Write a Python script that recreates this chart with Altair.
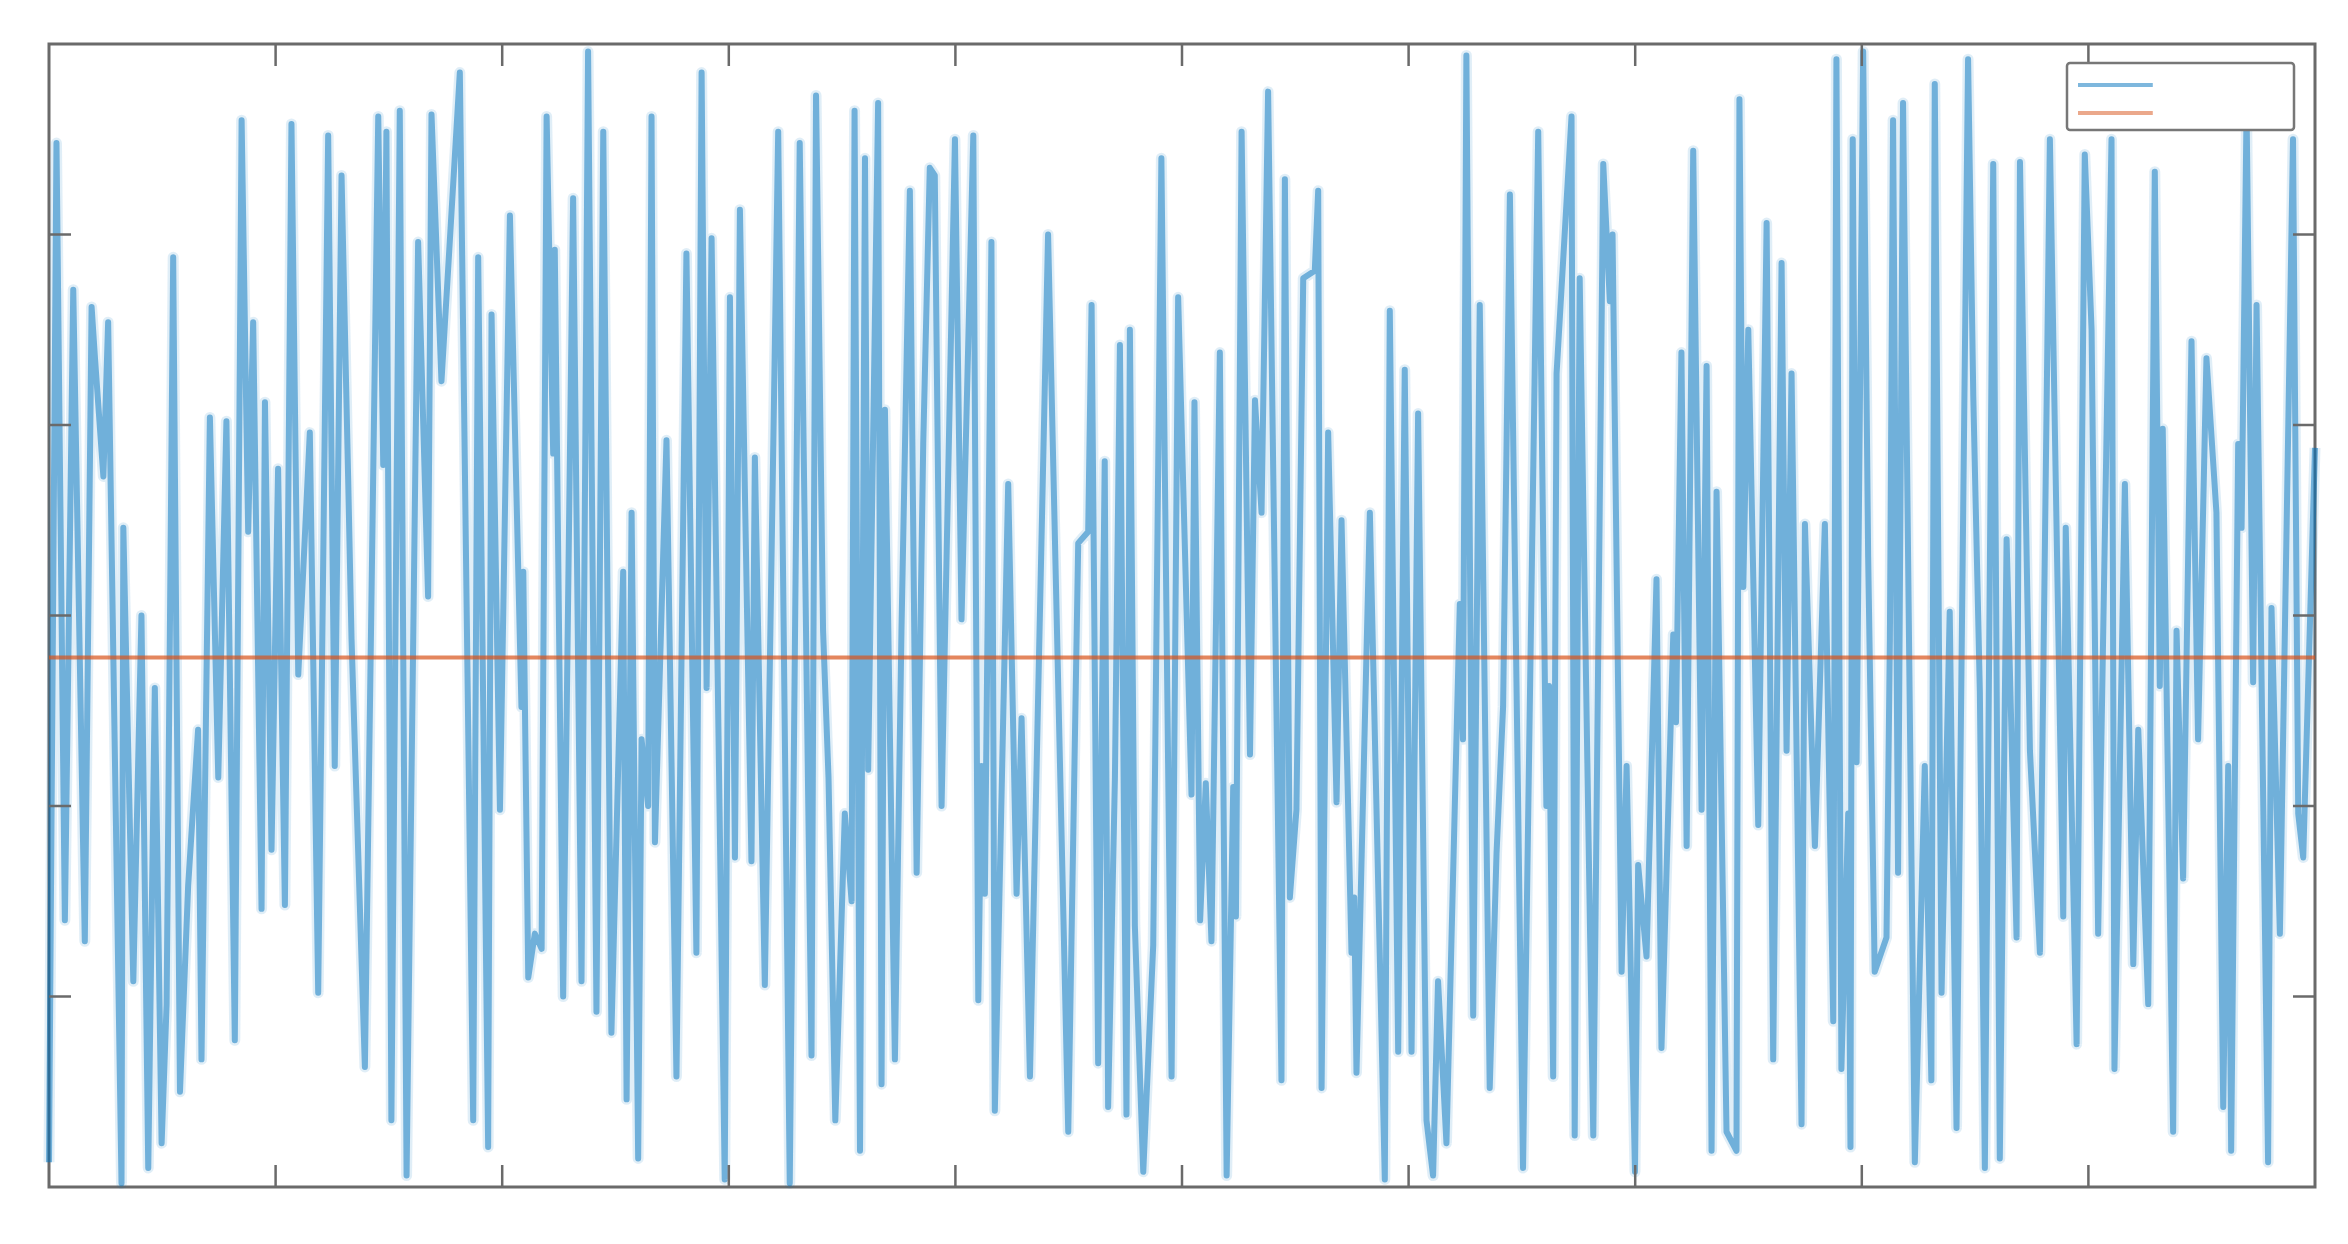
import altair as alt
import pandas as pd

# sample index (0..1000) and signal value (axis 0..6)
x_vals = [
    0, 3.3, 7.0, 10.7, 15.8, 18.8, 20.3, 24.0, 26.1, 32.0, 32.8, 37.2, 40.8, 43.8, 46.7, 49.7,
    51.9, 54.8, 57.8, 61.4, 65.8, 67.3, 71.0, 74.7, 78.3, 82.0, 85.0, 87.9, 90.1, 93.8, 95.3,
    98.2, 101.1, 104.1, 107.0, 110.0, 115.1, 118.8, 123.2, 126.1, 129.1, 132.0, 133.5, 139.4,
    145.3, 147.5, 148.9, 151.1, 154.8, 157.8, 162.9, 167.3, 168.8, 173.2, 181.3, 187.2, 189.4,
    193.8, 195.3, 199.0, 203.4, 208.5, 209.3, 211.5, 214.4, 217.4, 219.6, 222.5, 223.2, 226.9,
    231.3, 235.0, 237.9, 241.6, 244.6, 248.2, 253.4, 254.9, 257.1, 260.0, 261.5, 264.4, 265.9,
    267.4, 272.5, 276.9, 281.3, 285.7, 288.0, 290.2, 292.4, 298.2, 300.5, 302.7, 304.9, 310.0,
    311.5, 315.9, 321.8, 326.9, 331.3, 336.5, 338.5, 341.6, 344.0, 347.0, 351.2, 354.2, 355.5,
    357.9, 360.1, 361.5, 365.9, 367.4, 368.9, 373.3, 376.2, 379.9, 382.9, 385.8, 388.7, 390.9,
    393.9, 399.8, 402.7, 407.9, 410.1, 411.5, 413.0, 415.9, 417.4, 423.3, 427.0, 429.2, 432.9,
    440.9, 449.8, 454.2, 458.6, 460.1, 463.0, 465.9, 467.4, 470.4, 472.6, 475.5, 477.0, 479.2,
    482.9, 487.3, 490.9, 495.4, 498.3, 504.2, 505.5, 508.0, 510.5, 513.0, 516.7, 519.7, 522.6,
    523.8, 526.3, 530.0, 532.2, 535.1, 538.0, 543.9, 545.4, 547.6, 550.5, 553.5, 558.6, 560.1,
    561.6, 564.5, 568.2, 570.4, 574.8, 576.0, 577.0, 582.9, 589.5, 591.7, 595.4, 598.3, 601.3,
    604.2, 607.9, 610.8, 613.0, 616.7, 622.6, 624.0, 625.5, 628.5, 631.4, 635.8, 638.8, 641.7,
    644.7, 650.5, 657.2, 660.8, 662.0, 663.8, 665.3, 671.9, 673.3, 675.5, 681.5, 685.9, 688.8,
    690.0, 694.0, 696.2, 699.9, 701.3, 705.0, 709.4, 711.6, 716.8, 718.0, 720.4, 722.7, 725.6,
    729.3, 731.5, 733.7, 735.9, 740.3, 744.7, 746.0, 747.7, 749.9, 754.3, 758.0, 760.9, 764.6,
    766.8, 769.0, 773.4, 774.9, 779.3, 783.7, 787.4, 788.8, 791.0, 794.0, 795.0, 796.0, 797.7,
    800.6, 802.8, 805.7, 810.9, 812.4, 813.8, 816.0, 818.2, 823.4, 827.8, 830.7, 832.2, 835.2,
    838.8, 841.8, 846.9, 849.2, 852.1, 854.3, 858.0, 860.9, 863.9, 868.3, 869.8, 874.2, 878.6,
    883.0, 888.9, 890.0, 894.8, 898.4, 901.4, 904.3, 910.2, 911.5, 916.1, 919.8, 922.0, 926.4,
    929.3, 931.5, 932.8, 937.4, 938.9, 941.8, 945.5, 948.4, 952.1, 956.5, 959.5, 961.7, 963.0,
    966.1, 967.6, 969.8, 972.7, 974.2, 979.3, 980.8, 984.5, 990.3, 992.6, 994.8, 1000,
]
y_vals = [
    0.13, 5.48, 1.40, 4.71, 1.29, 4.62, 4.35, 3.73, 4.54, 0.02, 3.46, 1.08, 3.00, 0.10, 2.62, 0.23,
    0.96, 4.88, 0.50, 1.58, 2.40, 0.67, 4.04, 2.15, 4.02, 0.77, 5.60, 3.44, 4.54, 1.46, 4.12,
    1.77, 3.77, 1.48, 5.58, 2.69, 3.96, 1.02, 5.52, 2.21, 5.31, 3.73, 2.88, 0.63,
    5.62, 3.79, 5.54, 0.35, 5.65, 0.06, 4.96, 3.10, 5.63, 4.23, 5.85, 0.35, 4.88,
    0.21, 4.58, 1.98, 5.10, 2.52, 3.23, 1.10, 1.33, 1.25, 5.62, 3.85, 4.92, 1.00,
    5.19, 1.08, 5.96, 0.92, 5.54, 0.81, 3.23, 0.46, 3.54, 0.15, 2.35, 2.00, 5.62,
    1.81, 3.92, 0.58, 4.90, 1.23, 5.85, 2.62, 4.98, 0.04, 4.67, 1.73, 5.13, 1.71,
    3.83, 1.06, 5.54, 0.02, 5.48, 0.69, 5.73, 2.92, 2.15, 0.35, 1.96, 1.50, 5.65,
    0.19, 5.40, 2.19, 5.69, 0.54, 4.08, 0.67, 2.92, 5.23, 1.65, 3.90, 5.35, 5.31,
    2.00, 5.50, 2.98, 5.52, 0.98, 2.21, 1.54, 4.96, 0.40, 3.69, 1.54, 2.46, 0.58,
    5.00, 0.29, 3.38, 3.44, 4.63, 0.65, 3.81, 0.42, 2.15, 4.42, 0.38, 4.50, 1.37,
    0.08, 1.27, 5.40, 0.58, 4.67, 2.06, 4.12, 1.40, 2.12, 1.29, 4.38, 0.06, 2.10,
    1.42, 5.54, 2.27, 4.13, 3.54, 5.75, 0.56, 5.29, 1.52, 1.98, 4.77, 4.81, 5.23,
    0.52, 3.96, 2.02, 3.50, 1.23, 1.52, 0.60, 3.54, 0.04, 4.60, 0.71, 4.29, 0.71,
    4.06, 0.35, 0.06, 1.08, 0.23, 3.06, 2.35, 5.94, 0.90, 4.63, 0.52, 1.75, 2.52,
    5.21, 0.10, 5.54, 2.00, 2.63, 0.58, 4.27, 5.62, 0.27, 4.77, 0.27, 5.37, 4.65,
    5.00, 1.13, 2.21, 0.08, 1.69, 1.21, 3.19, 0.73, 2.90, 2.44, 4.38, 1.79, 5.44,
    1.98, 4.31, 0.19, 3.65, 0.29, 0.19, 5.71, 3.15, 4.50, 1.90, 5.06, 0.67, 4.85,
    2.29, 4.27, 0.33, 3.48, 1.79, 3.48, 0.87, 5.92, 0.62, 1.96, 0.21, 5.50, 2.23,
    5.96, 3.31, 1.13, 1.31, 2.88, 5.60, 1.65, 5.69, 0.13, 2.21, 0.56, 5.79, 1.02,
    3.02, 0.31, 5.92, 4.15, 2.60, 0.10, 5.37, 0.15, 3.40, 1.31, 5.38, 2.29, 1.23,
    5.50, 1.42, 3.46, 0.75, 5.42, 4.50, 1.33, 5.50, 0.62, 3.69, 1.17, 2.40, 0.96,
    5.33, 2.63, 3.98, 0.29, 2.92, 1.62, 4.44, 2.35, 4.35, 3.54, 0.42, 2.21, 0.19,
    3.90, 3.46, 5.65, 2.65, 4.63, 0.13, 3.04, 1.33, 5.50, 1.96, 1.73, 3.88,
]
mean_level = 2.78
series_names = ["signal", "mean"]
series_colors = ["#0072BD", "#D95319"]
x_ticks = [100, 200, 300, 400, 500, 600, 700, 800, 900]
y_ticks = [1, 2, 3, 4, 5]

W, H = 2266, 1143
TICK = 22
FRAME = "#6a6a6a"

sig = pd.DataFrame({"x": x_vals, "y": y_vals, "series": series_names[0]})
mean_df = pd.DataFrame({"y": [mean_level], "series": [series_names[1]]})
xt = pd.DataFrame({"x": x_ticks})
yt = pd.DataFrame({"y": y_ticks})

xs = alt.Scale(domain=[0, 1000], nice=False, zero=False)
ys = alt.Scale(domain=[0, 6], nice=False, zero=False)
cs = alt.Scale(domain=series_names, range=series_colors)

legend = alt.Legend(
    orient="none", legendX=2018, legendY=19, title=None,
    symbolType="M-1,0H5.8", symbolSize=484, symbolStrokeWidth=4,
    labelExpr="''", labelOffset=183, padding=9, rowPadding=7,
    fillColor="white", strokeColor="#777777", cornerRadius=3,
)

# soft halo under the signal to mimic the blurred rendering
halo = alt.Chart(sig).mark_line(strokeWidth=11, opacity=0.12, color="#0072BD",
                                strokeJoin="round").encode(
    x=alt.X("x:Q", scale=xs, axis=None),
    y=alt.Y("y:Q", scale=ys, axis=None),
)

line = alt.Chart(sig).mark_line(strokeWidth=6, opacity=0.5, strokeJoin="round").encode(
    x=alt.X("x:Q", scale=xs, axis=None),
    y=alt.Y("y:Q", scale=ys, axis=None),
    color=alt.Color("series:N", scale=cs, legend=legend),
)

mean_rule = alt.Chart(mean_df).mark_rule(strokeWidth=4, opacity=0.7).encode(
    y=alt.Y("y:Q", scale=ys, axis=None),
    color=alt.Color("series:N", scale=cs, legend=legend),
)

tick_style = dict(color=FRAME, strokeWidth=2.5)
xt_top = alt.Chart(xt).mark_rule(**tick_style).encode(
    x=alt.X("x:Q", scale=xs, axis=None), y=alt.value(0), y2=alt.value(TICK))
xt_bot = alt.Chart(xt).mark_rule(**tick_style).encode(
    x=alt.X("x:Q", scale=xs, axis=None), y=alt.value(H), y2=alt.value(H - TICK))
yt_left = alt.Chart(yt).mark_rule(**tick_style).encode(
    y=alt.Y("y:Q", scale=ys, axis=None), x=alt.value(0), x2=alt.value(TICK))
yt_right = alt.Chart(yt).mark_rule(**tick_style).encode(
    y=alt.Y("y:Q", scale=ys, axis=None), x=alt.value(W), x2=alt.value(W - TICK))

chart = alt.layer(halo, line, mean_rule, xt_top, xt_bot, yt_left, yt_right).properties(
    width=W, height=H,
    padding={"left": 41, "top": 36, "right": 25, "bottom": 49},
    autosize=alt.AutoSizeParams(type="none"),
    background="white",
).configure_view(
    stroke=FRAME, strokeWidth=3
).configure_legend(
    strokeWidth=2.5
)

chart.save("out.html", embed_options={"renderer": "svg", "actions": False})
